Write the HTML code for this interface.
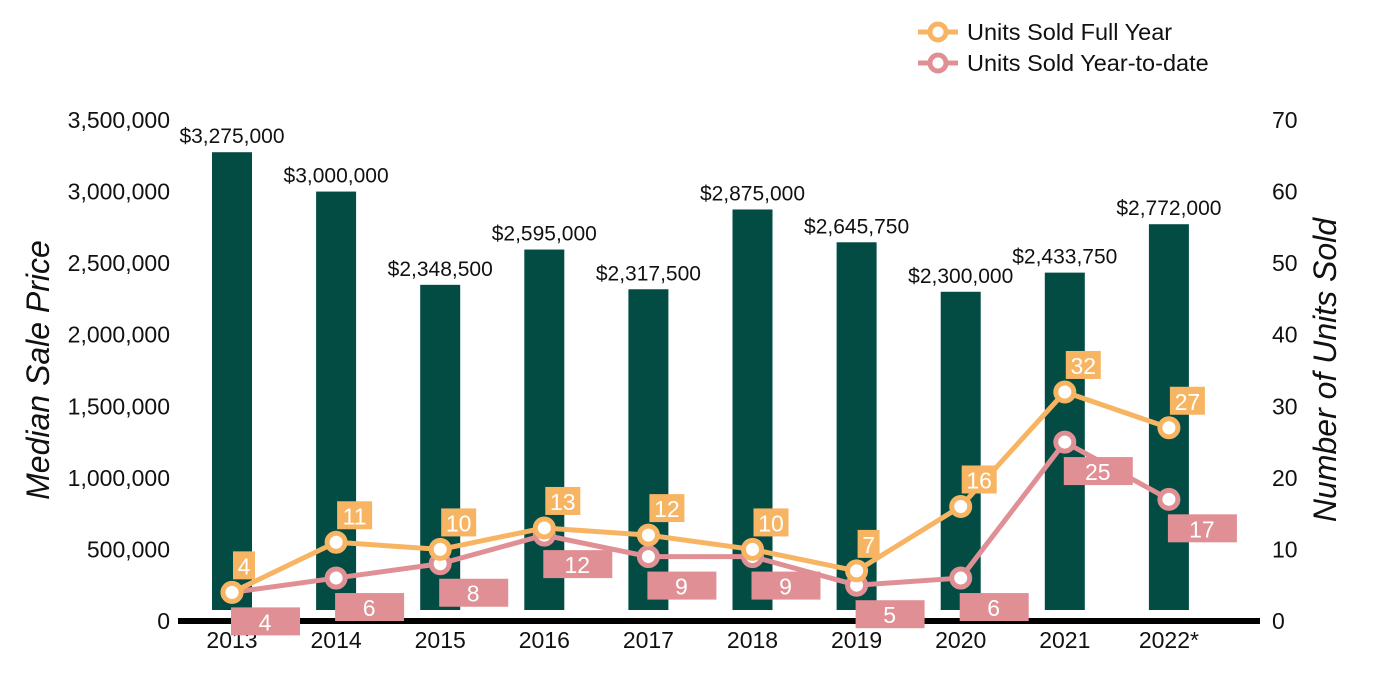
<!DOCTYPE html>
<html><head><meta charset="utf-8"><style>
body{margin:0;background:#fff;}
svg{display:block;font-family:"Liberation Sans",Arial,sans-serif;}
</style></head><body>
<svg id="chart" width="1400" height="700" xmlns="http://www.w3.org/2000/svg"></svg>
<script>
const categories=["2013","2014","2015","2016","2017","2018","2019","2020","2021","2022*"];
const prices=[3275000,3000000,2348500,2595000,2317500,2875000,2645750,2300000,2433750,2772000];
const fullYear=[4,11,10,13,12,10,7,16,32,27];
const ytd=[4,6,8,12,9,9,5,6,25,17];
const leftTicks=[0,500000,1000000,1500000,2000000,2500000,3000000,3500000];
const rightTicks=[0,10,20,30,40,50,60,70];

const NS="http://www.w3.org/2000/svg";
const svg=document.getElementById('chart');
function el(t,a,p){const e=document.createElementNS(NS,t);for(const k in a)e.setAttribute(k,a[k]);(p||svg).appendChild(e);return e;}
const Y0=621,YT=120;
const yL=v=>Y0-(v/3500000)*(Y0-YT);
const yR=v=>Y0-(v/70)*(Y0-YT);
const xC=i=>232+i*104.1;
const fmt=n=>n.toLocaleString('en-US');

leftTicks.forEach(t=>{const e=el('text',{x:170,y:yL(t)+8,'text-anchor':'end','font-size':23,fill:'#111'});e.textContent=fmt(t);
});
rightTicks.forEach(t=>{const e=el('text',{x:1272,y:yR(t)+8,'text-anchor':'start','font-size':23,fill:'#111'});e.textContent=t;
});
let t=el('text',{transform:'translate(49,370) rotate(-90)','text-anchor':'middle','font-size':32,'font-style':'italic',fill:'#111'});t.textContent='Median Sale Price';

t=el('text',{transform:'translate(1336,370) rotate(-90)','text-anchor':'middle','font-size':32,'font-style':'italic',fill:'#111'});t.textContent='Number of Units Sold';


prices.forEach((p,i)=>{const top=yL(p);
const b=el('rect',{x:xC(i)-20,y:top,width:40,height:610-top,fill:'#024c44'});

const l=el('text',{x:xC(i),y:top-9,'text-anchor':'middle','font-size':21,fill:'#111'});l.textContent='$'+fmt(p);

const c=el('text',{x:xC(i),y:648,'text-anchor':'middle','font-size':23,fill:'#111'});c.textContent=categories[i];
});
const ax=el('rect',{x:178,y:618,width:1082,height:6,fill:'#000'});


function series(vals,color,name){
const pl=el('polyline',{points:vals.map((v,i)=>xC(i)+','+yR(v)).join(' '),fill:'none',stroke:color,'stroke-width':5,'stroke-linejoin':'round'});

vals.forEach((v,i)=>{const m=el('circle',{cx:xC(i),cy:yR(v),r:9,fill:'#fff',stroke:color,'stroke-width':5});
});}
series(ytd,'#e09094','ytd');
series(fullYear,'#f7b564','full-year');
ytd.forEach((v,i)=>{const x=xC(i),y=yR(v);
const r=el('rect',{x:x-1,y:y+15,width:69,height:28,fill:'#e09094'});
const tx=el('text',{x:x+33,y:y+38,'text-anchor':'middle','font-size':23,fill:'#fff'});tx.textContent=v;
});
fullYear.forEach((v,i)=>{const x=xC(i),y=yR(v);const w=String(v).length>1?35:22;
const r=el('rect',{x:x+1,y:y-41,width:w,height:28,fill:'#f7b564'});
const tx=el('text',{x:x+1+w/2,y:y-18,'text-anchor':'middle','font-size':23,fill:'#fff'});tx.textContent=v;
});

[['Units Sold Full Year','#f7b564',32],['Units Sold Year-to-date','#e09094',63]].forEach(([n,c,y],k)=>{
const g=el('g',{});
el('line',{x1:918,y1:y,x2:958,y2:y,stroke:c,'stroke-width':5},g);
el('circle',{cx:938,cy:y,r:8,fill:'#fff',stroke:c,'stroke-width':5},g);
const tx=el('text',{x:967,y:y+8,'font-size':23.5,fill:'#111'},g);tx.textContent=n;});
</script>
</body></html>
